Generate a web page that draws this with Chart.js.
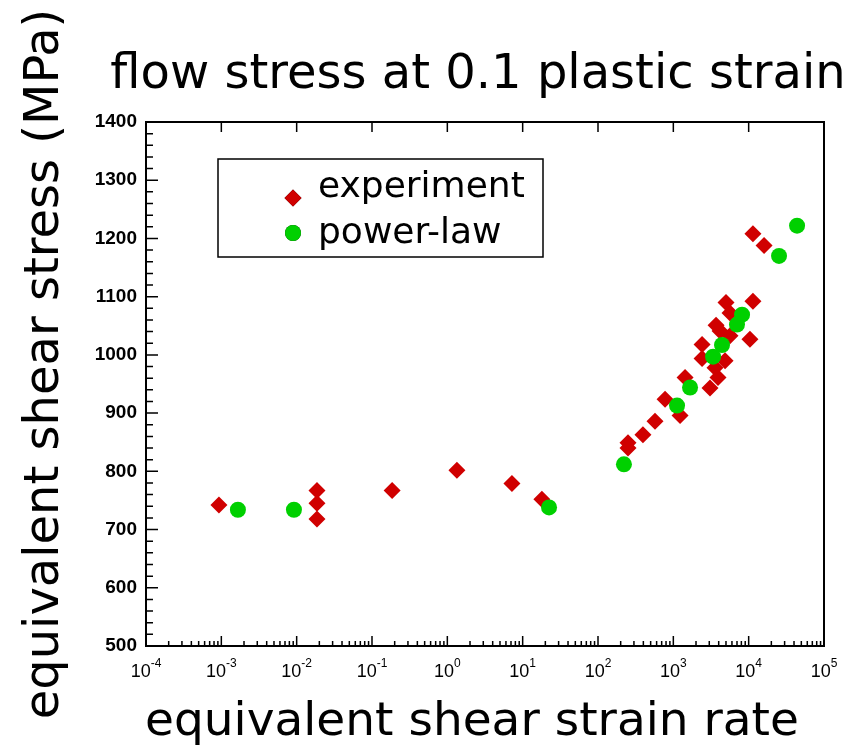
<!DOCTYPE html>
<html>
<head>
<meta charset="utf-8">
<script src="https://cdn.jsdelivr.net/npm/chart.js@4.4.0/dist/chart.umd.min.js"></script>
<style>
  body { margin: 0; background: #fff; }
</style>
</head>
<body>
<canvas id="flowChart" width="867" height="748"></canvas>
<script>
// experiment (red diamonds)
const expRate = [0.00093, 0.0186, 0.0186, 0.0186, 0.185, 1.34, 7.2, 18,
  250, 250, 395, 571, 776, 1228, 1432, 2405, 2405, 3070, 3575, 3690, 3920,
  4170, 4860, 5000, 5650, 5650, 10400, 11400, 11400, 16000];
const expStress = [742, 767, 745, 718, 767, 802, 779, 752,
  849, 840, 863, 886, 924, 896, 961, 1018, 994, 943, 978, 1051, 961,
  1041, 990, 1090, 1072, 1033, 1027, 1092, 1208, 1188];

// power-law fit (green circles)
const fitRate = [0.00166, 0.0092, 22.4, 221, 1120, 1667, 3370, 4430, 7000, 8170, 25300, 43900];
const fitStress = [734, 734, 738, 812, 913, 944, 997, 1017, 1052, 1069, 1170, 1222];

const xDecades = [-4, -3, -2, -1, 0, 1, 2, 3, 4, 5];

const titleText = "flow stress at 0.1 plastic strain";
const xTitle = "equivalent shear strain rate";
const yTitle = "equivalent shear stress (MPa)";

const toPts = (xs, ys) => xs.map((x, i) => ({ x: x, y: ys[i] }));

// frame, inward ticks, decade labels, titles and legend
const framePlugin = {
  id: "frame",
  afterDraw(chart) {
    const ctx = chart.ctx;
    const a = chart.chartArea;
    const xs = chart.scales.x;
    const ys = chart.scales.y;
    ctx.save();
    ctx.strokeStyle = "#000";
    ctx.lineWidth = 2;
    ctx.strokeRect(a.left, a.top, a.right - a.left, a.bottom - a.top);

    ctx.lineWidth = 1.5;
    ctx.beginPath();
    xDecades.forEach(d => {
      const px = xs.getPixelForValue(Math.pow(10, d));
      ctx.moveTo(px, a.bottom); ctx.lineTo(px, a.bottom - 10);
      ctx.moveTo(px, a.top); ctx.lineTo(px, a.top + 10);
      if (d < 5) {
        for (let m = 2; m <= 9; m++) {
          const mx = xs.getPixelForValue(m * Math.pow(10, d));
          ctx.moveTo(mx, a.bottom); ctx.lineTo(mx, a.bottom - 5);
        }
      }
    });
    for (let v = 500; v <= 1400; v += 20) {
      const py = ys.getPixelForValue(v);
      const len = v % 100 === 0 ? 12 : 7;
      ctx.moveTo(a.left, py); ctx.lineTo(a.left + len, py);
    }
    ctx.stroke();

    // x tick labels 10^n
    ctx.fillStyle = "#000";
    ctx.textBaseline = "alphabetic";
    const bigF = "18px 'Liberation Sans', Arial, sans-serif";
    const smallF = "12px 'Liberation Sans', Arial, sans-serif";
    xDecades.forEach(d => {
      const px = xs.getPixelForValue(Math.pow(10, d));
      const exp = String(d);
      ctx.font = bigF;
      const wb = ctx.measureText("10").width;
      ctx.font = smallF;
      const we = ctx.measureText(exp).width;
      const x0 = px - (wb + we) / 2;
      ctx.textAlign = "left";
      ctx.font = bigF;
      ctx.fillText("10", x0, a.bottom + 31);
      ctx.font = smallF;
      ctx.fillText(exp, x0 + wb, a.bottom + 21);
    });

    // plot title and axis titles
    ctx.textAlign = "center";
    ctx.font = "48px 'DejaVu Sans', sans-serif";
    ctx.fillText(titleText, 478, 88);
    ctx.font = "47px 'DejaVu Sans', sans-serif";
    ctx.fillText(xTitle, 472, 735);
    ctx.save();
    ctx.translate(58, 364);
    ctx.rotate(-Math.PI / 2);
    ctx.font = "48px 'DejaVu Sans', sans-serif";
    ctx.fillText(yTitle, 0, 0);
    ctx.restore();

    // legend
    ctx.lineWidth = 1.5;
    ctx.strokeRect(218, 159, 325, 98);
    ctx.font = "36px 'DejaVu Sans', sans-serif";
    ctx.textAlign = "left";
    ctx.textBaseline = "alphabetic";
    const items = [chart.data.datasets[1], chart.data.datasets[0]];
    const markY = [198, 233];
    const textY = [197, 243];
    items.forEach((ds, i) => {
      ctx.beginPath();
      Chart.helpers.drawPoint(ctx, {
        pointStyle: ds.pointStyle, radius: ds.pointRadius, borderWidth: 0
      }, 293, markY[i]);
      ctx.fillStyle = ds.backgroundColor;
      ctx.fill();
      ctx.fillStyle = "#000";
      ctx.fillText(ds.label, 318, textY[i]);
    });
    ctx.restore();
  }
};

new Chart(document.getElementById("flowChart").getContext("2d"), {
  type: "scatter",
  data: {
    datasets: [
      {
        label: "power-law",
        data: toPts(fitRate, fitStress),
        pointStyle: "circle",
        pointRadius: 8,
        backgroundColor: "#00d000",
        borderColor: "#00d000",
        borderWidth: 0,
        order: 0,
      },
      {
        label: "experiment",
        data: toPts(expRate, expStress),
        pointStyle: "rectRot",
        pointRadius: 8.5,
        backgroundColor: "#d00000",
        borderColor: "#d00000",
        borderWidth: 0,
        order: 1,
      },
    ],
  },
  options: {
    responsive: false,
    animation: false,
    layout: { padding: { top: 122, right: 43, left: 0, bottom: 0 } },
    plugins: { legend: { display: false }, tooltip: { enabled: false }, title: { display: false } },
    scales: {
      x: {
        type: "logarithmic",
        min: 1e-4,
        max: 1e5,
        grid: { display: false },
        border: { display: false },
        ticks: { display: false },
        afterFit: s => { s.height = 102; },
      },
      y: {
        min: 500,
        max: 1400,
        grid: { display: false, drawTicks: false },
        border: { display: false },
        ticks: {
          stepSize: 100,
          padding: 9,
          color: "#000",
          font: { family: "'Liberation Sans', Arial, sans-serif", size: 19, weight: "bold" },
          callback: v => String(v),
        },
        afterFit: s => { s.width = 146; },
      },
    },
  },
  plugins: [framePlugin],
});
</script>
</body>
</html>
